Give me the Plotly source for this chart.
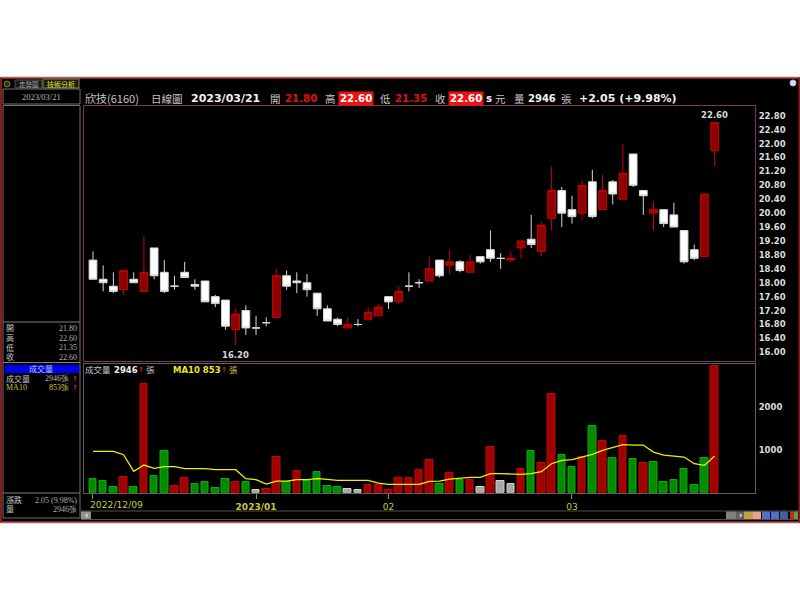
import plotly.graph_objects as go

# ---------- data ----------
opens = [18.65,18.10,17.90,17.80,18.10,17.75,19.00,18.30,17.90,18.30,17.95,18.05,17.60,17.50,16.65,17.20,16.70,16.85,17.00,18.20,18.05,18.00,
         17.70,17.25,16.95,16.70,16.80,16.95,17.05,17.60,17.45,17.90,18.00,18.05,18.65,18.50,18.60,18.30,18.75,18.95,18.70,18.65,19.00,19.25,18.90,
         19.85,20.65,20.10,20.00,20.90,20.10,20.90,20.40,21.70,20.65,20.00,20.10,19.95,19.50,18.95,18.75,21.80]
highs = [18.90,18.50,18.30,18.35,18.30,19.35,19.00,18.65,18.20,18.60,18.10,18.05,17.65,17.50,17.25,17.35,17.05,17.00,18.40,18.35,18.30,18.25,
         17.70,17.35,17.00,17.00,16.95,17.30,17.40,17.60,17.90,18.30,18.10,18.75,18.65,18.95,18.65,18.80,18.75,19.50,18.85,18.90,19.20,19.95,19.75,
         21.35,20.75,20.50,20.95,21.25,21.10,20.95,22.00,21.70,20.65,20.35,20.10,20.30,19.50,19.10,20.55,22.60]
lows = [18.10,17.75,17.70,17.65,18.00,17.75,18.10,17.70,17.80,18.15,17.80,17.45,17.30,16.65,16.20,16.50,16.50,16.75,17.00,17.80,17.70,17.60,
        17.05,16.90,16.75,16.70,16.75,16.90,17.05,17.25,17.40,17.75,17.85,18.05,18.15,18.25,18.30,18.30,18.55,18.60,18.40,18.60,18.70,19.00,18.75,
        19.50,19.60,19.70,19.80,19.85,20.10,20.25,20.40,20.75,19.95,19.50,19.60,19.60,18.55,18.65,18.75,21.35]
closes = [18.10,18.00,17.75,18.35,18.00,18.30,18.20,17.75,17.90,18.15,17.90,17.45,17.40,16.75,17.10,16.70,16.70,16.85,18.20,17.90,18.00,17.80,
          17.25,16.90,16.80,16.80,16.80,17.15,17.30,17.45,17.75,17.90,18.00,18.40,18.20,18.60,18.35,18.60,18.60,18.70,18.70,18.70,19.20,19.10,19.65,
          20.65,20.00,19.90,20.80,19.90,20.65,20.55,21.15,20.80,20.50,20.10,19.70,19.60,18.60,18.70,20.55,22.60]
volumes = [318,263,140,364,140,2526,388,969,155,349,209,248,116,326,256,240,70,93,837,240,512,264,488,147,140,85,54,178,170,54,333,333,535,760,209,450,
           302,295,140,1054,279,202,542,976,690,2302,868,597,829,1542,1209,814,1325,790,690,721,240,302,542,178,814,2946]
volume_kinds = list("gggrgrggrrgggg" "r" "g" "x" "rr" "g" "r" "gggg" "xx" "rrrrrrr" "g" "r" "g" "r" "x" "r" "xx" "r" "g" "rr" "gg" "r" "g" "r" "g" "r" "g" "r" "gggggg" "rrr")
ma10 = [961,961,961,884,496,643,566,605,605,558,558,558,535,535,535,325,302,202,271,271,302,302,325,310,287,287,287,287,225,194,194,194,194,264,271,318,
        341,357,357,442,442,426,426,442,488,674,752,767,829,891,984,1046,1116,1108,1108,945,876,852,829,674,635,853]
price_ticks = [16.0,16.4,16.8,17.2,17.6,18.0,18.4,18.8,19.2,19.6,20.0,20.4,20.8,21.2,21.6,22.0,22.4,22.8]
volume_ticks = [1000,2000]
date_tick_positions = [0,16,29,47]
date_tick_labels = ["","<b>2023/01</b>","02","03"]
first_date_label = "2022/12/09"
days = list(range(len(closes)))

W, H = 800, 600
def px(x): return x / W
def py(y): return 1 - y / H

CJK = "Noto Sans CJK TC"
TIGHT = "Liberation Sans, Noto Sans CJK TC"
BOLD = "DejaVu Sans"
THIN = "Liberation Sans Narrow, Liberation Serif"
GREY = "#c4c4c4"
YEL = "#c8c83c"

annotations, shapes = [], []

def text(x, y, s, color=GREY, size=10, family=CJK, weight=400, anchor="left", bg=None):
    a = dict(xref="paper", yref="paper", x=px(x), y=py(y), text=s, showarrow=False,
             xanchor=anchor, yanchor="middle", borderpad=1 if bg else 0,
             font=dict(color=color, size=size, family=family, weight=weight))
    if bg:
        a["bgcolor"] = bg
    annotations.append(a)

def rect(x0, y0, x1, y1, line=None, fill=None, width=1, layer="below"):
    shapes.append(dict(type="rect", xref="paper", yref="paper", x0=px(x0), x1=px(x1), y0=py(y0), y1=py(y1),
                       line=dict(color=line or "rgba(0,0,0,0)", width=width if line else 0),
                       fillcolor=fill or "rgba(0,0,0,0)", layer=layer))

def hline(x0, x1, y, color="#707070", width=1):
    shapes.append(dict(type="line", xref="paper", yref="paper", x0=px(x0), x1=px(x1), y0=py(y), y1=py(y),
                       line=dict(color=color, width=width), layer="below"))

# window body
rect(1, 78, 799.5, 522, line="#8c1c1c", fill="#000000", width=2)
hline(1, 799, 77, "#c0b0b0", 1)
hline(1, 799, 523, "#c0b0b0", 1)

# tabs
shapes.append(dict(type="circle", xref="paper", yref="paper", x0=px(4), x1=px(10), y0=py(81), y1=py(87),
                   line=dict(color="#808040", width=1), fillcolor="#303010", layer="below"))
rect(15, 80, 42, 88, fill="#181818", line="#505050")
rect(43, 79, 79, 88, fill="#202000", line="#808060")
text(29, 84, "走勢圖", "#a8a8a8", 6.5, TIGHT, anchor="center")
text(61, 84, "技術分析", "#e0e040", 7, TIGHT, anchor="center")

# left column
rect(3, 89, 80, 104, line="#707070")
hline(3, 80, 105.5, "#707070")
text(41, 97, "2023/03/21", "#b8b8b8", 8.5, THIN, anchor="center")
rect(3, 105.5, 80, 518, line="#707070")
hline(3, 80, 322, "#808080", 1)
hline(3, 80, 362.5, "#808080", 1)
hline(3, 80, 493, "#808080", 1)
for y, lab, val in zip([328, 338, 347.5, 357], ["開", "高", "低", "收"], ["21.80", "22.60", "21.35", "22.60"]):
    text(5, y, lab, GREY, 8, TIGHT)
    text(78, y, val, "#b0b0b0", 8, THIN, anchor="right")
rect(5, 365, 79, 373, fill="#0000ee")
text(41, 369, "成交量", "#b8c8ff", 8, TIGHT, anchor="center")
text(5, 378.7, "成交量", GREY, 8, TIGHT)
text(70, 378.7, "2946張", "#b8b8b8", 8, THIN, anchor="right")
text(75, 378.7, "↑", "#ff1010", 7, BOLD, 700, anchor="center")
text(5, 388, "MA10", YEL, 8, "Liberation Serif")
text(70, 388, "853張", YEL, 8, THIN, anchor="right")
text(75, 388, "↑", "#ff1010", 7, BOLD, 700, anchor="center")
text(5, 500, "漲跌", GREY, 8, TIGHT)
text(78, 500, "2.05 (9.98%)", "#b0b0b0", 8, THIN, anchor="right")
text(5, 509.5, "量", GREY, 8, TIGHT)
text(78, 509.5, "2946張", "#b0b0b0", 8, THIN, anchor="right")

# header
HY = 98
text(84, HY, "欣技(6160)", GREY, 11)
text(150, HY, "日線圖", GREY, 10.5)
text(190, HY, "2023/03/21", "#f0f0f0", 11, BOLD, 700)
text(269, HY, "開", GREY, 10.5)
text(284, HY, "21.80", "#e01010", 10.2, BOLD, 700)
text(324, HY, "高", GREY, 10.5)
text(338, HY, "22.60", "#ffffff", 10.2, BOLD, 700, bg="#f01010")
text(379, HY, "低", GREY, 10.5)
text(394, HY, "21.35", "#e01010", 10.2, BOLD, 700)
text(434, HY, "收", GREY, 10.5)
text(448, HY, "22.60", "#ffffff", 10.2, BOLD, 700, bg="#f01010")
text(485, HY, "s", "#f0f0f0", 10.2, BOLD, 700)
text(494, HY, "元", GREY, 10.5)
text(513, HY, "量", GREY, 10.5)
text(527, HY, "2946", "#f0f0f0", 10, BOLD, 700)
text(560, HY, "張", GREY, 10.5)
text(578, HY, "+2.05 (+9.98%)", "#f0f0f0", 11, BOLD, 700)
shapes.append(dict(type="circle", xref="paper", yref="paper", x0=px(790), x1=px(796), y0=py(80), y1=py(86),
                   line=dict(color="#a0c0e0", width=1), fillcolor="#d0e0f0", layer="below"))

# volume legend
text(84, 370, "成交量", GREY, 8.5, TIGHT)
text(113, 370, "2946", "#f0f0f0", 8.5, BOLD, 700)
text(141, 370, "↑", "#ff1010", 7, BOLD, 700, anchor="center")
text(145, 370, "張", GREY, 8.5, TIGHT)
text(172, 370, "MA10 853", "#e8e820", 8.5, BOLD, 700)
text(224, 370, "↑", "#ff1010", 7, BOLD, 700, anchor="center")
text(228, 370, "張", YEL, 8.5, TIGHT)

# scroll bar and icons
hline(81, 799, 511, "#505050", 1)
hline(81, 799, 519.5, "#505050", 1)
rect(81, 511.5, 91, 519, fill="#909090")
text(86, 515, "‹", "#ffffff", 8, BOLD, 700, anchor="center")
rect(726, 511.5, 736, 519, fill="#808080")
rect(736, 511.5, 744, 519, fill="#606060")
text(740, 515, "›", "#ffffff", 8, BOLD, 700, anchor="center")
for x0, x1, c in [(744, 753, "#c0a040"), (753, 761, "#f0a090"), (762, 770, "#5070d0"), (771, 779, "#5070d0"),
                  (780, 788, "#4060a0"), (790, 794, "#c03020"), (794, 798, "#60a040")]:
    rect(x0, 511.5, x1, 519, fill=c)

# candles
up = [i for i in days if closes[i] > opens[i]]
flat = [i for i in days if closes[i] <= opens[i]]

def candle(idx, fill, edge):
    style = dict(line=dict(color=edge, width=1), fillcolor=fill)
    return go.Candlestick(x=[days[i] for i in idx], open=[opens[i] for i in idx], high=[highs[i] for i in idx],
                          low=[lows[i] for i in idx], close=[closes[i] for i in idx], increasing=style, decreasing=style,
                          whiskerwidth=0, showlegend=False, xaxis="x", yaxis="y")

kind_fill = {"r": "#a00000", "g": "#008c00", "x": "#a8a8a8"}
kind_edge = {"r": "#c00808", "g": "#10a810", "x": "#d0d0d0"}

traces = [
    candle(up, "#8c0000", "#c80000"),
    candle(flat, "#ffffff", "#d8d8d8"),
    go.Bar(x=days, y=volumes, width=0.74, xaxis="x2", yaxis="y2", showlegend=False,
           marker=dict(color=[kind_fill[k] for k in volume_kinds],
                       line=dict(color=[kind_edge[k] for k in volume_kinds], width=1))),
    go.Scatter(x=days, y=ma10, mode="lines", line=dict(color="#f0f000", width=1.3), xaxis="x2", yaxis="y2", showlegend=False),
]

hi_i = highs.index(max(highs))
lo_i = lows.index(min(lows))
for i, val, anc, shift in [(hi_i, highs[hi_i], "bottom", 1), (lo_i, lows[lo_i], "top", -3)]:
    annotations.append(dict(xref="x", yref="y", x=days[i], y=val, text=f"{val:.2f}", showarrow=False, yanchor=anc, yshift=shift,
                            font=dict(color="#d8d8d8", size=8.5, family=BOLD, weight=700)))
annotations.append(dict(xref="x2", yref="paper", x=days[0], y=py(504), text=first_date_label, showarrow=False, xanchor="left", xshift=-5,
                        yanchor="middle", font=dict(color=YEL, size=9.2, family=BOLD)))

x_range = [-0.93, 64.96]
X_DOM = [px(83.5), px(755)]
FRAME = "#7c3a4c"
VFRAME = "#606060"
tick_font = dict(color="#dcdcdc", size=8.5, family=BOLD, weight=700)

fig = go.Figure(traces)
fig.update_layout(
    width=W, height=H, autosize=False, margin=dict(l=0, r=0, t=0, b=0),
    paper_bgcolor="#ffffff", plot_bgcolor="rgba(0,0,0,0)", showlegend=False, boxgap=0.24, boxgroupgap=0,
    bargap=0, shapes=shapes, annotations=annotations,
    xaxis=dict(domain=X_DOM, range=x_range, anchor="y", showgrid=False, zeroline=False, showticklabels=False, ticks="",
               showline=True, linecolor=FRAME, mirror=True, linewidth=1, rangeslider=dict(visible=False)),
    yaxis=dict(domain=[py(361), py(106)], range=[15.75, 23.08], side="right", anchor="x", tickvals=price_ticks,
               ticktext=[f"{t:.2f}" for t in price_ticks], tickfont=tick_font, showgrid=False, zeroline=False,
               ticks="outside", ticklen=1, tickcolor="#000000", showline=True, linecolor=FRAME, mirror=True, linewidth=1),
    xaxis2=dict(domain=X_DOM, range=x_range, anchor="y2", showgrid=False, zeroline=False, tickvals=date_tick_positions,
                ticktext=date_tick_labels, tickfont=dict(color=YEL, size=9, family=BOLD), ticks="outside", ticklen=5, tickcolor="#909040",
                showline=True, linecolor=VFRAME, mirror=True, linewidth=1),
    yaxis2=dict(domain=[py(492.7), py(364)], range=[0, 2993], side="right", anchor="x2", tickvals=volume_ticks,
                ticktext=[str(t) for t in volume_ticks], tickfont=tick_font, showgrid=False, zeroline=False,
                ticks="outside", ticklen=1, tickcolor="#000000", showline=True, linecolor=VFRAME, mirror=True, linewidth=1),
)

fig.write_html("out.html", config=dict(displayModeBar=False),
               post_script="document.body.style.margin='0';document.body.style.overflow='hidden';")
